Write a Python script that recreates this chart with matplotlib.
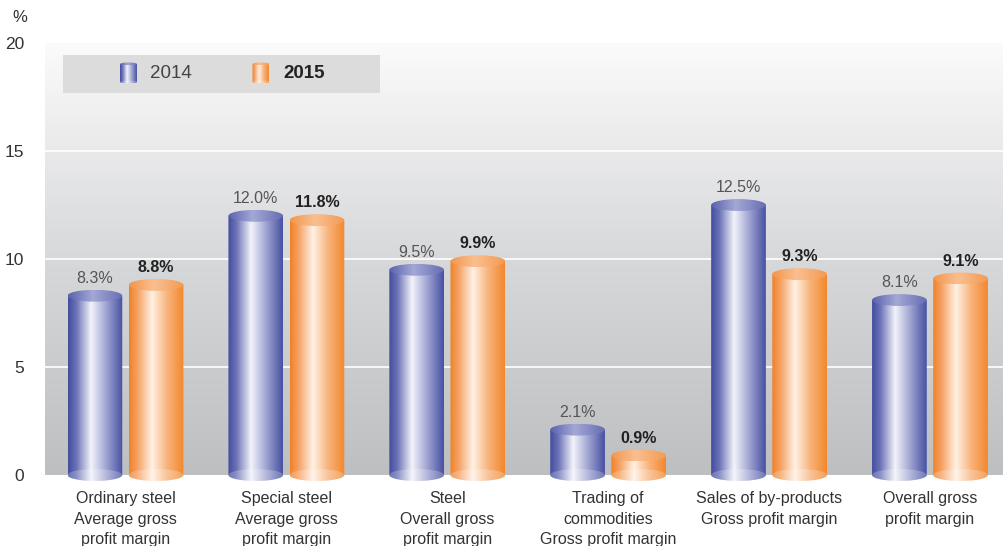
import numpy as np
import matplotlib.pyplot as plt
from matplotlib.colors import LinearSegmentedColormap
from matplotlib.patches import Polygon, Ellipse

plt.rcParams["font.family"] = ["Liberation Sans", "DejaVu Sans"]

# ---- data ----
categories = [
    "Ordinary steel\nAverage gross\nprofit margin",
    "Special steel\nAverage gross\nprofit margin",
    "Steel\nOverall gross\nprofit margin",
    "Trading of\ncommodities\nGross profit margin",
    "Sales of by-products\nGross profit margin",
    "Overall gross\nprofit margin",
]
values_2014 = [8.3, 12.0, 9.5, 2.1, 12.5, 8.1]
values_2015 = [8.8, 11.8, 9.9, 0.9, 9.3, 9.1]
series_names = ["2014", "2015"]
y_ticks = [0, 5, 10, 15, 20]

# ---- style ----
BODY_BLUE = LinearSegmentedColormap.from_list("bb", [
    (0, "#434d9e"), (0.15, "#6a72b6"), (0.42, "#f3f3fb"), (0.7, "#9ea3d1"), (1, "#4751a2")])
TOP_BLUE = LinearSegmentedColormap.from_list("tb", [
    (0, "#5a61ac"), (0.45, "#a3a8d6"), (1, "#676db3")])
BODY_ORANGE = LinearSegmentedColormap.from_list("bo", [
    (0, "#f08226"), (0.15, "#f5a062"), (0.42, "#fff1e4"), (0.7, "#f8b27a"), (1, "#f2882d")])
TOP_ORANGE = LinearSegmentedColormap.from_list("to", [
    (0, "#f3954a"), (0.45, "#f9bf90"), (1, "#f49a52")])
BG = LinearSegmentedColormap.from_list("bg", ["#bebfc1", "#d7d8da", "#fbfbfb"])

BAR_W = 0.34
OFFSET = 0.19
ELL_H = 0.55  # cylinder cap height in data units
HGRAD = np.linspace(0, 1, 256).reshape(1, -1)


def draw_cylinder(ax, xc, v, w, eh, body_cmap, top_cmap, base=0.0):
    x0, x1 = xc - w / 2, xc + w / 2
    t = np.linspace(0, np.pi, 60)
    arc_x = xc + (w / 2) * np.cos(t)
    arc_y = base - (eh / 2) * np.sin(t)
    pts = [(x0, v), (x1, v)] + list(zip(arc_x, arc_y))
    body = Polygon(pts, closed=True, transform=ax.transData)
    im = ax.imshow(HGRAD, cmap=body_cmap, extent=[x0, x1, base - eh / 2, v],
                   aspect="auto", zorder=3, interpolation="bilinear")
    im.set_clip_path(body)
    # lighter rim at the base
    ax.add_patch(Ellipse((xc, base), w, eh, facecolor="white", alpha=0.22,
                         edgecolor="none", zorder=3.5))
    cap = Ellipse((xc, v), w, eh, transform=ax.transData)
    im2 = ax.imshow(HGRAD, cmap=top_cmap, extent=[x0, x1, v - eh / 2, v + eh / 2],
                    aspect="auto", zorder=4, interpolation="bilinear")
    im2.set_clip_path(cap)


fig = plt.figure(figsize=(10.04, 5.46), dpi=100)
px_per_unit = (475 - 43) / 20
y_low = -0.4
ax_bottom_px = 475 - y_low * px_per_unit
ax = fig.add_axes([45 / 1004, (546 - ax_bottom_px) / 546, (1004 - 45) / 1004,
                   (ax_bottom_px - 43) / 546])
xlim = (-0.5, 5.46)

ax.imshow(np.linspace(0, 1, 256).reshape(-1, 1)[::-1], cmap=BG,
          extent=[xlim[0], xlim[1], 0, 20], aspect="auto", zorder=0)
for yv in y_ticks[1:-1]:
    ax.axhline(yv, color="white", lw=1.2, zorder=1)

x = np.arange(len(categories))
for i in range(len(categories)):
    v1, v2 = values_2014[i], values_2015[i]
    draw_cylinder(ax, x[i] - OFFSET, v1, BAR_W, ELL_H, BODY_BLUE, TOP_BLUE)
    draw_cylinder(ax, x[i] + OFFSET, v2, BAR_W, ELL_H, BODY_ORANGE, TOP_ORANGE)
    ax.text(x[i] - OFFSET, v1 + 0.45, f"{v1:.1f}%", ha="center", va="bottom",
            fontsize=11.5, color="#555555", zorder=5)
    ax.text(x[i] + OFFSET, v2 + 0.45, f"{v2:.1f}%", ha="center", va="bottom",
            fontsize=11.5, color="#222222", fontweight="bold", zorder=5)
    ax.text(x[i], -0.76, categories[i], ha="center", va="top", fontsize=11.5,
            color="#333333", linespacing=1.45, clip_on=False)

ax.set_xlim(*xlim)
ax.set_ylim(y_low, 20)
ax.set_xticks([])
ax.set_yticks(y_ticks)
ax.set_yticklabels([str(t) for t in y_ticks], fontsize=12.5, color="#333333")
ax.tick_params(axis="y", length=0, pad=15)
for s in ax.spines.values():
    s.set_visible(False)

fig.text(20 / 1004, 1 - 18 / 546, "%", ha="center", va="center", fontsize=12, color="#333333")

# ---- legend box ----
lg = fig.add_axes([63 / 1004, (546 - 93) / 546, 317 / 1004, 38 / 546])
lg.set_facecolor("#dcdcdd")
draw_cylinder(lg, 65.5, 29, 17, 3, BODY_BLUE, TOP_BLUE, base=11)
draw_cylinder(lg, 198, 29, 17, 3, BODY_ORANGE, TOP_ORANGE, base=11)
lg.set_xlim(0, 317)
lg.set_ylim(0, 38)
lg.set_xticks([])
lg.set_yticks([])
for s in lg.spines.values():
    s.set_visible(False)
lg.text(87, 19, series_names[0], va="center", ha="left", fontsize=13.5, color="#444444")
lg.text(220, 19, series_names[1], va="center", ha="left", fontsize=13.5,
        color="#222222", fontweight="bold")

fig.savefig("out.png", dpi=100)
